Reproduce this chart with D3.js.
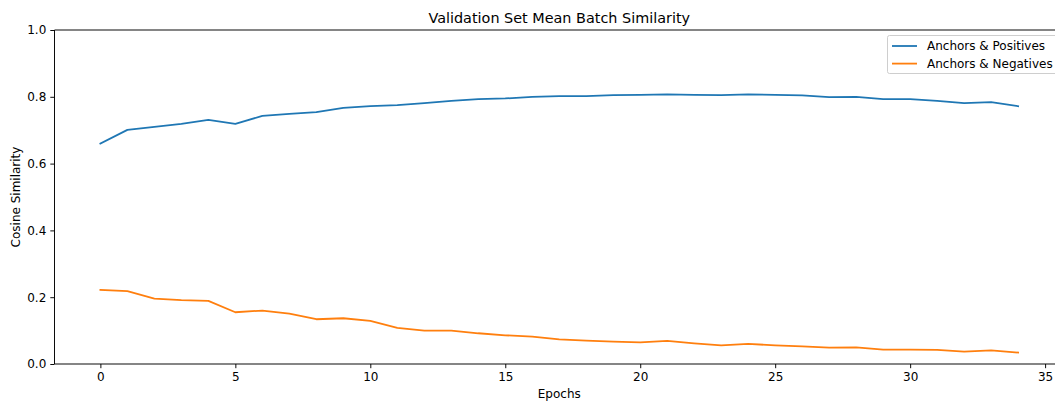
<!DOCTYPE html>
<html>
<head>
<meta charset="utf-8">
<script src="https://cdn.jsdelivr.net/npm/d3@7/dist/d3.min.js"></script>
<style>
  html, body { margin: 0; padding: 0; background: #fff; }
  svg { display: block; font-family: "DejaVu Sans", sans-serif; }
</style>
</head>
<body>
<svg id="chart" width="1055" height="402"></svg>
<script>
const epochs = d3.range(0, 35);
const positives = [0.660, 0.701, 0.710, 0.719, 0.731, 0.719, 0.743, 0.749, 0.754, 0.767,
  0.772, 0.775, 0.781, 0.788, 0.793, 0.795, 0.800, 0.802, 0.802, 0.805,
  0.806, 0.807, 0.806, 0.805, 0.807, 0.806, 0.804, 0.799, 0.800, 0.793,
  0.793, 0.788, 0.781, 0.784, 0.772];
const negatives = [0.222, 0.218, 0.196, 0.191, 0.189, 0.155, 0.160, 0.151, 0.134, 0.137,
  0.129, 0.108, 0.100, 0.100, 0.092, 0.086, 0.082, 0.074, 0.070, 0.067,
  0.065, 0.069, 0.062, 0.056, 0.060, 0.056, 0.053, 0.049, 0.050, 0.043,
  0.043, 0.042, 0.037, 0.041, 0.034];
const seriesNames = ["Anchors & Positives", "Anchors & Negatives"];
const seriesColors = ["#1f77b4", "#ff7f0e"];
const xTicks = [0, 5, 10, 15, 20, 25, 30, 35];
const yTicks = [0.0, 0.2, 0.4, 0.6, 0.8, 1.0];
const chartTitle = "Validation Set Mean Batch Similarity";
const xLabel = "Epochs";
const yLabel = "Cosine Similarity";

const svg = d3.select("#chart");
const pLeft = 54.5, pRight = 1064, pTop = 30, pBottom = 364;

const x = d3.scaleLinear().domain([-1.7, 35.7]).range([pLeft, pRight]);
const y = d3.scaleLinear().domain([0, 1]).range([pBottom, pTop]);

// axes
const xAxis = d3.axisBottom(x).tickValues(xTicks).tickFormat(d3.format("d")).tickSize(4.2).tickPadding(4);
const yAxis = d3.axisLeft(y).tickValues(yTicks).tickFormat(d3.format(".1f")).tickSize(4.2).tickPadding(4);

const gx = svg.append("g").attr("transform", `translate(0,${pBottom})`).call(xAxis);
const gy = svg.append("g").attr("transform", `translate(${pLeft},0)`).call(yAxis);
[gx, gy].forEach(g => {
  g.select(".domain").remove();
  g.selectAll(".tick line").attr("stroke", "#000").attr("stroke-width", 0.96);
  g.selectAll(".tick text").attr("fill", "#000").style("font-size", "12px").style("font-family", "DejaVu Sans");
});

// spines
const spine = (x1, y1, x2, y2) => svg.append("line").attr("x1", x1).attr("x2", x2).attr("y1", y1).attr("y2", y2)
  .attr("stroke", "#000").attr("stroke-width", 0.96);
spine(pLeft, pTop, pLeft, pBottom);
spine(pLeft, pBottom, pRight, pBottom);
spine(pLeft, pTop, pRight, pTop);
spine(pRight, pTop, pRight, pBottom);

// lines
const line = d3.line().x((d, i) => x(epochs[i])).y(d => y(d));
[positives, negatives].forEach((s, k) => {
  svg.append("path").datum(s).attr("d", line).attr("fill", "none")
    .attr("stroke", seriesColors[k]).attr("stroke-width", 1.8)
    .attr("stroke-linejoin", "round").attr("stroke-linecap", "square");
});

// title and labels
svg.append("text").attr("x", (pLeft + pRight) / 2).attr("y", 23).attr("text-anchor", "middle")
  .style("font-size", "14.4px").attr("fill", "#000").text(chartTitle);
svg.append("text").attr("x", (pLeft + pRight) / 2).attr("y", 398).attr("text-anchor", "middle")
  .style("font-size", "12px").attr("fill", "#000").text(xLabel);
svg.append("text").attr("transform", `translate(20,${(pTop + pBottom) / 2}) rotate(-90)`)
  .attr("text-anchor", "middle").style("font-size", "12px").attr("fill", "#000").text(yLabel);

// legend
const lg = svg.append("g");
lg.append("rect").attr("x", 887.5).attr("y", 35.5).attr("width", 170).attr("height", 38)
  .attr("rx", 2).attr("fill", "#fff").attr("fill-opacity", 0.8)
  .attr("stroke", "#cccccc").attr("stroke-width", 0.96);
seriesNames.forEach((name, k) => {
  const yy = 46 + k * 17.6;
  lg.append("line").attr("x1", 892).attr("x2", 917).attr("y1", yy).attr("y2", yy)
    .attr("stroke", seriesColors[k]).attr("stroke-width", 1.8);
  lg.append("text").attr("x", 927).attr("y", yy + 4.3).style("font-size", "12px")
    .attr("fill", "#000").text(name);
});
</script>
</body>
</html>
